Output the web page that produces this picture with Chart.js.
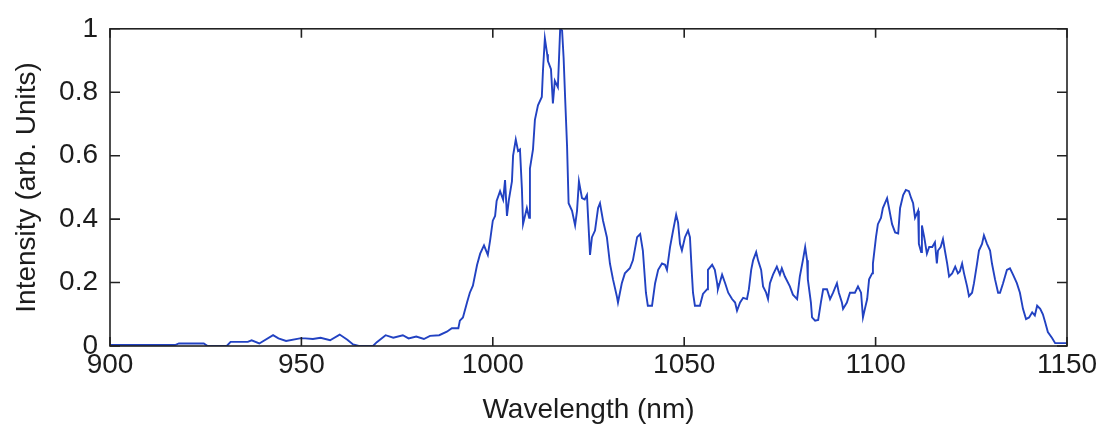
<!DOCTYPE html>
<html>
<head>
<meta charset="utf-8">
<script src="https://cdn.jsdelivr.net/npm/chart.js@4.4.1/dist/chart.umd.min.js"></script>
<style>
  html, body { margin: 0; padding: 0; background: #fff; }
  #wrap { width: 1107px; height: 430px; position: relative; }
</style>
</head>
<body>
<div id="wrap"><canvas id="myChart"></canvas></div>
<script>
// spectrum (wavelength in nm, intensity in arb. units)
const wavelength = [
  900, 905, 910, 917, 918, 924.5, 925.5, 930.5, 931.5, 936, 937, 939, 942.6, 944, 946, 949.6,
  951, 953, 955, 957.5, 960, 962, 963.5, 965, 968.7, 969.7, 972, 974, 976.5, 978, 980, 982,
  983.6, 986, 988, 989.3, 991, 991.4, 992.2, 993.3, 994, 994.8, 995.9, 996.7, 997.7, 998.7, 999.3,
  1000, 1000.6, 1001, 1001.9, 1002.7, 1003.2, 1003.7, 1004.2, 1005, 1005.3, 1006, 1006.6, 1007.1,
  1007.6, 1007.9, 1008.9, 1009.5, 1009.7, 1010.5, 1011, 1011.8, 1012.8, 1013.1, 1013.6, 1014.2,
  1014.4, 1015.2, 1015.7, 1016.2, 1017, 1017.6, 1018.1, 1018.5, 1018.9, 1019.4, 1019.8, 1020.7,
  1021.5, 1022, 1022.5, 1023.3, 1024, 1024.6, 1024.9, 1025.4, 1025.9, 1026.7, 1027.5, 1028,
  1028.8, 1029.8, 1030.6, 1031.4, 1032.4, 1032.7, 1033.7, 1034.5, 1035.8, 1036.6, 1037.7, 1038.5,
  1039.2, 1040, 1040.5, 1041.6, 1042.4, 1043.2, 1044.2, 1045, 1045.5, 1046.3, 1047.1, 1047.9,
  1048.4, 1048.9, 1049.4, 1050.2, 1051, 1051.5, 1052, 1052.3, 1052.8, 1054.1, 1054.9, 1056,
  1056.2, 1057.3, 1058, 1058.6, 1058.8, 1059.9, 1060.7, 1061.5, 1062.5, 1063.3, 1063.8, 1064.6,
  1065.4, 1066.4, 1066.9, 1067.5, 1068, 1068.8, 1069.3, 1070.1, 1070.6, 1071.4, 1071.9, 1072.4,
  1073.2, 1074.2, 1075, 1075.5, 1076.3, 1077.6, 1078.4, 1079.5, 1080.2, 1081, 1081.6, 1082.1,
  1082.3, 1083.1, 1083.4, 1084.2, 1085, 1085.7, 1086.3, 1087.3, 1088.1, 1088.9, 1089.9, 1090.4,
  1091.2, 1091.5, 1092.5, 1093.3, 1094.6, 1095.4, 1096.2, 1096.7, 1097.2, 1097.8, 1098.3, 1099.1,
  1099.3, 1100.1, 1100.6, 1101.4, 1101.9, 1103, 1103.5, 1104.3, 1105.1, 1105.9, 1106.4, 1107.2,
  1107.9, 1108.7, 1109.3, 1109.8, 1110.3, 1111.1, 1111.3, 1111.9, 1112.1, 1112.7, 1113.4, 1114,
  1114.8, 1115.5, 1116, 1116.3, 1117, 1117.6, 1118.1, 1118.7, 1119.2, 1120, 1120.8, 1121.5,
  1122, 1122.6, 1123.1, 1123.9, 1124.4, 1125.2, 1125.7, 1126.5, 1127, 1127.8, 1128.3, 1129.1,
  1129.9, 1130.4, 1131.2, 1132, 1132.5, 1133.3, 1134.3, 1135.1, 1135.9, 1136.9, 1137.7, 1138.5,
  1139.3, 1140.1, 1140.9, 1141.6, 1142.2, 1143, 1143.7, 1144.3, 1145, 1146.1, 1146.9, 1150
];
const intensity = [
  0.003, 0.003, 0.003, 0.003, 0.008, 0.008, 0.0, 0.0, 0.013, 0.013, 0.018, 0.008, 0.034, 0.024, 0.016, 0.024,
  0.024, 0.022, 0.026, 0.018, 0.036, 0.02, 0.005, 0.0, 0.0, 0.012, 0.034, 0.026, 0.034, 0.024, 0.03, 0.022,
  0.032, 0.034, 0.045, 0.056, 0.056, 0.08, 0.09, 0.139, 0.168, 0.19, 0.256, 0.291, 0.317, 0.287, 0.333,
  0.395, 0.41, 0.457, 0.488, 0.461, 0.523, 0.41, 0.461, 0.519, 0.60, 0.651, 0.615, 0.62,
  0.497, 0.384, 0.435, 0.404, 0.559, 0.62, 0.713, 0.759, 0.785, 0.867, 0.97, 0.92,
  0.898, 0.873, 0.765, 0.836, 0.816, 1.0, 0.995, 0.908, 0.78, 0.63, 0.45, 0.426,
  0.38, 0.426, 0.519, 0.466, 0.462, 0.476, 0.404, 0.287, 0.343, 0.364, 0.435, 0.45,
  0.395, 0.343, 0.26, 0.21, 0.157, 0.137, 0.198, 0.229, 0.245, 0.27, 0.343, 0.353,
  0.301, 0.168, 0.127, 0.127, 0.198, 0.24, 0.26, 0.256, 0.24, 0.312, 0.364, 0.414,
  0.389, 0.322, 0.301, 0.343, 0.364, 0.343, 0.229, 0.168, 0.127, 0.127, 0.164, 0.179,
  0.24, 0.256, 0.24, 0.198, 0.179, 0.225, 0.198, 0.168, 0.148, 0.137, 0.111, 0.137,
  0.152, 0.148, 0.179, 0.24, 0.27, 0.296, 0.27, 0.24, 0.188, 0.168, 0.148, 0.198,
  0.225, 0.25, 0.225, 0.245, 0.219, 0.188, 0.162, 0.148, 0.219, 0.27, 0.312, 0.27,
  0.21, 0.137, 0.09, 0.08, 0.082, 0.137, 0.179, 0.179, 0.148, 0.168, 0.198, 0.168,
  0.137, 0.117, 0.137, 0.168, 0.168, 0.188, 0.168, 0.09, 0.117, 0.148, 0.21, 0.229,
  0.26, 0.343, 0.384, 0.404, 0.435, 0.466, 0.435, 0.384, 0.358, 0.355, 0.435, 0.476,
  0.492, 0.488, 0.466, 0.45, 0.404, 0.426, 0.322, 0.296, 0.38, 0.343, 0.291, 0.312,
  0.312, 0.327, 0.26, 0.301, 0.312, 0.337, 0.301, 0.26, 0.219, 0.229, 0.25, 0.229,
  0.235, 0.26, 0.229, 0.188, 0.157, 0.168, 0.198, 0.26, 0.301, 0.322, 0.349, 0.322,
  0.301, 0.26, 0.21, 0.168, 0.168, 0.198, 0.24, 0.245, 0.225, 0.198, 0.168, 0.117,
  0.085, 0.09, 0.106, 0.096, 0.127, 0.117, 0.1, 0.075, 0.044, 0.025, 0.009, 0.009
];
const xTicks = [900, 950, 1000, 1050, 1100, 1150];
const yTicks = [0, 0.2, 0.4, 0.6, 0.8, 1];

const points = wavelength.map((w, i) => ({ x: w, y: intensity[i] }));
const textColor = '#1c1c1c';
const font = { family: 'Liberation Sans, Arial, sans-serif', size: 28 };

// matlab style box with ticks pointing inwards
const boxPlugin = {
  id: 'box',
  afterDraw(chart) {
    const { ctx, chartArea: a, scales } = chart;
    ctx.save();
    ctx.strokeStyle = '#222';
    ctx.lineWidth = 1.6;
    ctx.strokeRect(a.left, a.top, a.right - a.left, a.bottom - a.top);
    ctx.beginPath();
    xTicks.forEach(v => {
      const px = scales.x.getPixelForValue(v);
      ctx.moveTo(px, a.bottom); ctx.lineTo(px, a.bottom - 9);
      ctx.moveTo(px, a.top); ctx.lineTo(px, a.top + 9);
    });
    yTicks.forEach(v => {
      const py = scales.y.getPixelForValue(v);
      ctx.moveTo(a.left, py); ctx.lineTo(a.left + 10, py);
      ctx.moveTo(a.right, py); ctx.lineTo(a.right - 10, py);
    });
    ctx.stroke();
    ctx.restore();
  }
};

const ctx = document.getElementById('myChart');
const myChart = new Chart(ctx, {
  type: 'line',
  data: {
    datasets: [{
      data: points,
      borderColor: '#2242c2',
      borderWidth: 1.9,
      pointRadius: 0,
      tension: 0,
      fill: false,
    }],
  },
  options: {
    responsive: true,
    maintainAspectRatio: false,
    animation: false,
    layout: { padding: { left: 4, right: 40, top: 22, bottom: 0 } },
    plugins: { legend: { display: false }, tooltip: { enabled: false } },
    scales: {
      x: {
        type: 'linear',
        min: 900,
        max: 1150,
        afterBuildTicks: scale => { scale.ticks = xTicks.map(v => ({ value: v })); },
        afterFit: scale => { scale.height = 84; },
        grid: { display: false, drawTicks: false },
        border: { display: false },
        ticks: { font: font, color: textColor, padding: 2, maxRotation: 0, callback: v => String(v) },
        title: { display: true, text: 'Wavelength (nm)', font: font, color: textColor, padding: { top: 0, bottom: 3 } },
      },
      y: {
        min: 0,
        max: 1,
        afterBuildTicks: scale => { scale.ticks = yTicks.map(v => ({ value: v })); },
        afterFit: scale => { scale.width = 106; },
        grid: { display: false, drawTicks: false },
        border: { display: false },
        ticks: { font: font, color: textColor, padding: 12, callback: v => String(v) },
        title: { display: true, text: 'Intensity (arb. Units)', font: font, color: textColor, padding: { top: 6, bottom: 0 } },
      },
    },
  },
  plugins: [boxPlugin],
});
</script>
</body>
</html>
